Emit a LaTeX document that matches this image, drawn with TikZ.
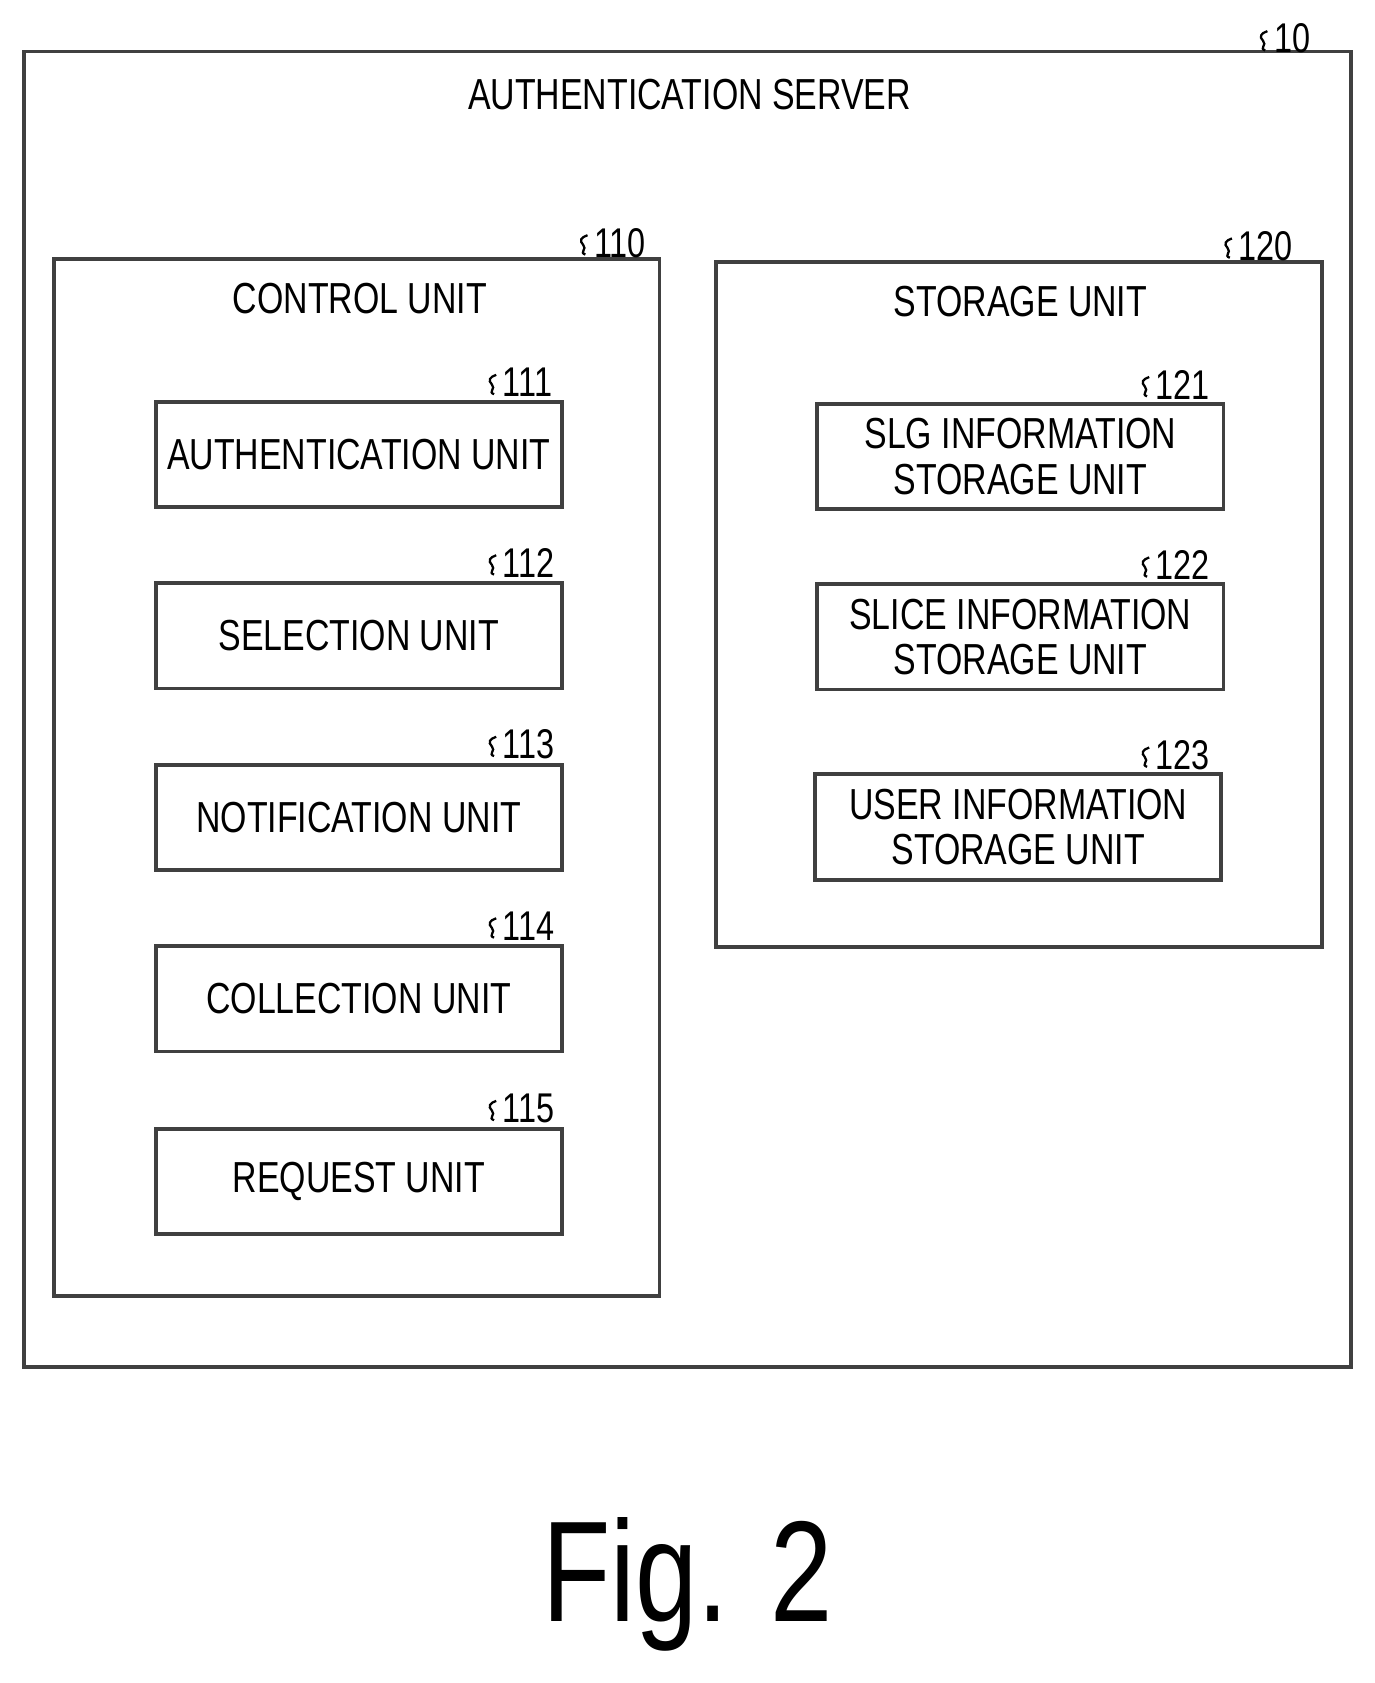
\documentclass[tikz,border=0pt]{standalone}
\usepackage{fontspec}
\setmainfont{Liberation Sans}
\newfontfamily\narrowsans[FakeStretch=0.78]{Liberation Sans}
\usetikzlibrary{positioning,calc}
\tikzset{
  unit/.style={draw, line width=1pt, draw=black!75, minimum width=3.78cm, minimum height=0.98cm,
    inner sep=0pt, align=center, font=\narrowsans\fontsize{11.5}{12}\selectfont},
  frame/.style={draw, line width=1pt, draw=black!75},
  heading/.style={font=\narrowsans\fontsize{11.5}{12}\selectfont},
  refno/.style={font=\narrowsans\fontsize{11}{12}\selectfont, anchor=west, inner sep=1pt}
}
\newcommand{\refmark}[2]{%
  \draw[line width=0.6pt] ($(#1)+(0,9)$) .. controls +(-6,-2) and +(4,4) .. ($(#1)+(-2,0)$)
    .. controls +(-4,-4) and +(-6,2) .. ($(#1)+(2,-9)$);
  \node[refno] at ($(#1)+(4,-2)$) {#2};}
\begin{document}
\begin{tikzpicture}[x=0.01cm, y=-0.01cm]
    \useasboundingbox (0,0) rectangle (1280,1567);
    % outer server
    \draw[frame] (22,48) rectangle (1258,1273);
    \node[heading] (server) at (642,88) {AUTHENTICATION SERVER};
    \refmark{1178,38}{10}
    % control unit
    \draw[frame] (50,241) rectangle (614,1207);
    \node[heading] (control) at (335,278) {CONTROL UNIT};
    \refmark{545,228}{110}
    \node[unit] (auth) at (334,423) {AUTHENTICATION UNIT};
    \node[unit] (sel) at (334,592) {SELECTION UNIT};
    \node[unit] (notif) at (334,761) {NOTIFICATION UNIT};
    \node[unit] (coll) at (334,930) {COLLECTION UNIT};
    \node[unit] (req) at (334,1100) {REQUEST UNIT};
    \refmark{460,358}{111}
    \refmark{460,526}{112}
    \refmark{460,695}{113}
    \refmark{460,864}{114}
    \refmark{460,1034}{115}
    % storage unit
    \draw[frame] (667,244) rectangle (1231,882);
    \node[heading] (storage) at (950,281) {STORAGE UNIT};
    \refmark{1145,231}{120}
    \node[unit] (slg) at (950,425) {SLG INFORMATION\\STORAGE UNIT};
    \node[unit] (slice) at (950,593) {SLICE INFORMATION\\STORAGE UNIT};
    \node[unit] (user) at (948,770) {USER INFORMATION\\STORAGE UNIT};
    \refmark{1068,360}{121}
    \refmark{1068,528}{122}
    \refmark{1068,705}{123}
    % caption
    \node[font=\narrowsans\fontsize{38}{42}\selectfont] (fig) at (640,1475) {Fig. 2};
\end{tikzpicture}
\end{document}
